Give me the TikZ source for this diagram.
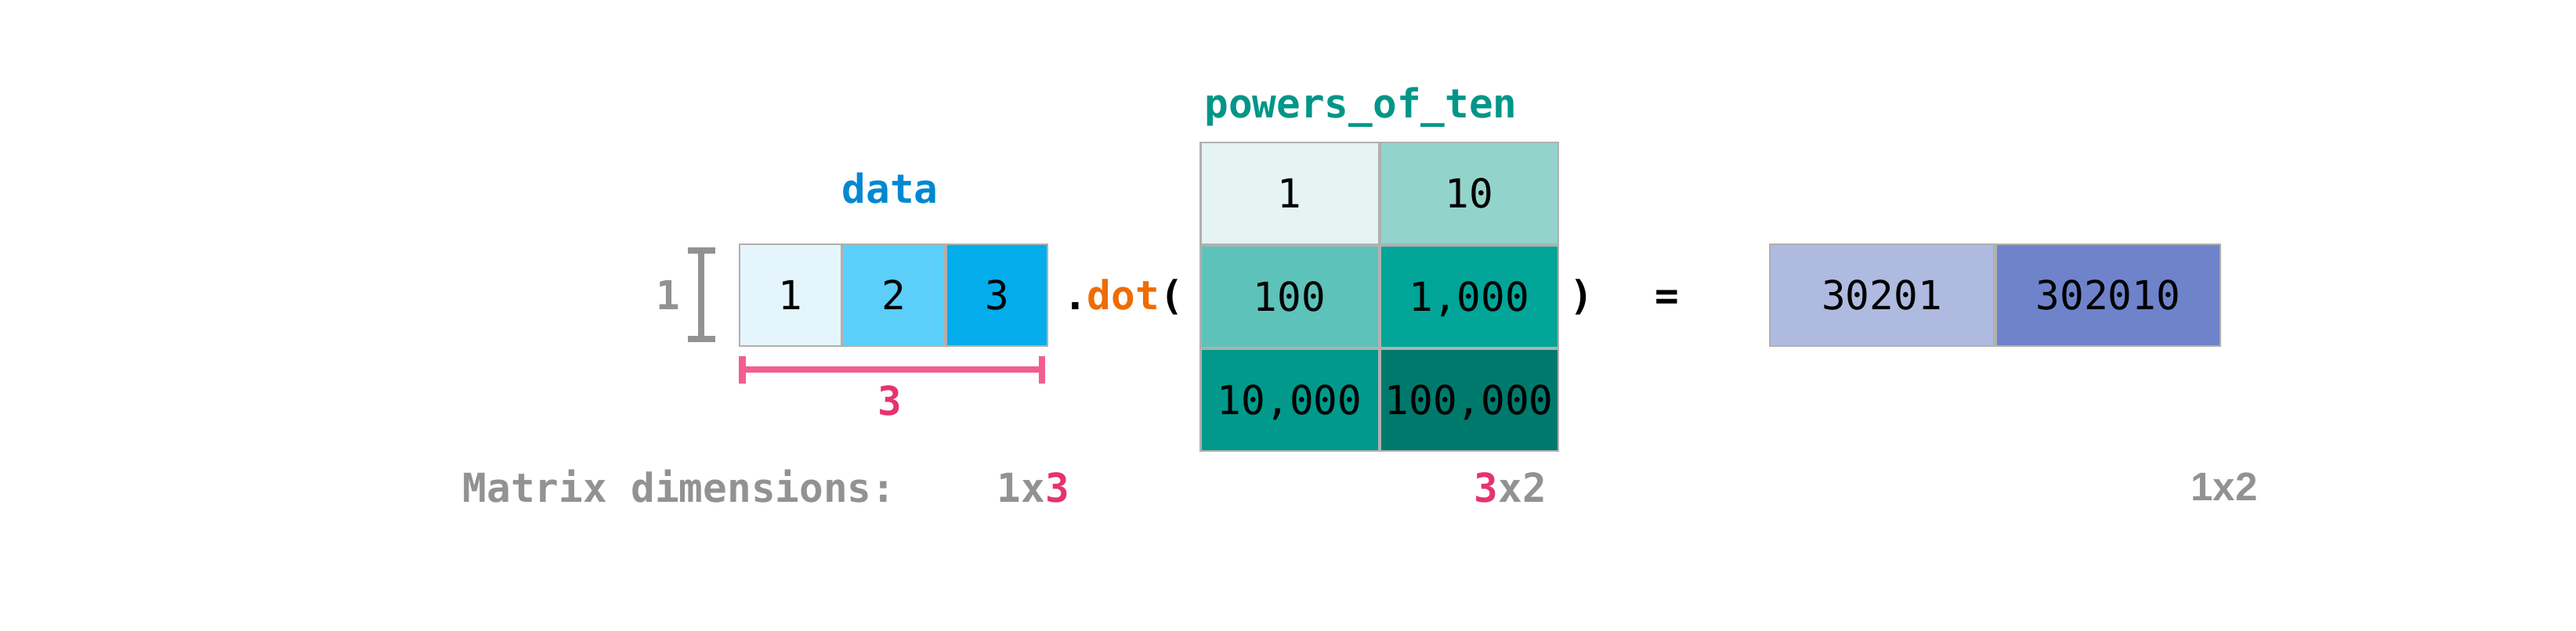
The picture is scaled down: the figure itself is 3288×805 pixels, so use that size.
\documentclass[tikz,border=0pt]{standalone}
\usepackage{fontspec}
\setmainfont{Liberation Sans}
\setmonofont{DejaVu Sans Mono}
\usepackage{tikz}
\usetikzlibrary{positioning, arrows.meta, calc}
\definecolor{datablue}{HTML}{0288D1}
\definecolor{dataA}{HTML}{E5F5FC}
\definecolor{dataB}{HTML}{5BCEFA}
\definecolor{dataC}{HTML}{03ACEB}
\definecolor{tenteal}{HTML}{009688}
\definecolor{tenA}{HTML}{E5F3F2}
\definecolor{tenB}{HTML}{92D4CB}
\definecolor{tenC}{HTML}{5DC2BA}
\definecolor{tenD}{HTML}{00A598}
\definecolor{tenE}{HTML}{00998B}
\definecolor{tenF}{HTML}{00796D}
\definecolor{resA}{HTML}{AFBAE0}
\definecolor{resB}{HTML}{6F83CB}
\definecolor{dimgray}{HTML}{929292}
\definecolor{pinkbar}{HTML}{F25E8F}
\definecolor{pinktext}{HTML}{E6336F}
\definecolor{dotorange}{HTML}{EF6C00}
\definecolor{cellborder}{HTML}{B0B0B0}

\begin{document}
\begin{tikzpicture}[x=0.01cm, y=-0.01cm,
    cell/.style={draw=cellborder, line width=0.6pt, inner sep=0pt,
      minimum width=1.295cm, minimum height=1.3cm,
      text height=0.37cm, text depth=0pt,
      font=\ttfamily\fontsize{14.5}{17}\selectfont},
    tencell/.style={cell, minimum width=2.27cm},
    rescell/.style={cell, minimum width=2.865cm},
    lbl/.style={font=\ttfamily\bfseries\fontsize{14.5}{17}\selectfont, anchor=base, inner sep=0pt},
    bracket/.style={line width=2.4pt, {Bar[width=3.5mm]}-{Bar[width=3.5mm]}}]
  \useasboundingbox (0,0) rectangle (3288,805);

  \node[cell, fill=dataA] (d1) at (1009,377) {1};
  \node[cell, fill=dataB, right=0pt of d1] (d2) {2};
  \node[cell, fill=dataC, right=0pt of d2] (d3) {3};
  \node[lbl, text=datablue] (datalbl) at (1136,259) {data};

  \coordinate (rowtop) at ($(d1.north west)+(-48,5)$);
  \coordinate (rowbot) at ($(d1.south west)+(-48,-6)$);
  \draw[bracket, dimgray] (rowtop) -- (rowbot);
  \node[lbl, text=dimgray] (rowlbl) at (853,395) {1};

  \coordinate (colleft) at ($(d1.south west)+(0,29)$);
  \coordinate (colright) at ($(d3.south east)+(-4,29)$);
  \draw[bracket, pinkbar] (colleft) -- (colright);
  \node[lbl, text=pinktext] (collbl) at (1136,530) {3};

  \node[lbl] (dotlbl) at (1434,395) {.\textcolor{dotorange}{dot}(};

  \node[tencell, fill=tenA] (p11) at (1646,247) {1};
  \node[tencell, fill=tenB, right=0pt of p11] (p12) {10};
  \node[tencell, fill=tenC, below=0pt of p11] (p21) {100};
  \node[tencell, fill=tenD, right=0pt of p21] (p22) {1,000};
  \node[tencell, fill=tenE, below=0pt of p21] (p31) {10,000};
  \node[tencell, fill=tenF, right=0pt of p31] (p32) {100,000};
  \node[lbl, text=tenteal] (tenlbl) at (1737,150) {powers\_of\_ten};

  \node[lbl] (closelbl) at (2019,395) {)};
  \node[lbl] (eqlbl) at (2128,395) {=};

  \node[rescell, fill=resA] (r1) at (2402,377) {30201};
  \node[rescell, fill=resB, right=0pt of r1] (r2) {302010};

  \node[lbl, text=dimgray, anchor=base west] (dimlbl) at (590,641) {Matrix dimensions:};
  \node[lbl, text=dimgray] (dimdata) at (1319,641) {1x\textcolor{pinktext}{3}};
  \node[lbl, text=dimgray] (dimten) at (1928,641) {\textcolor{pinktext}{3}x2};
  \node[lbl, text=dimgray, font=\rmfamily\bfseries\fontsize{14.5}{17}\selectfont] (dimres) at (2839,639) {1x2};
\end{tikzpicture}
\end{document}
